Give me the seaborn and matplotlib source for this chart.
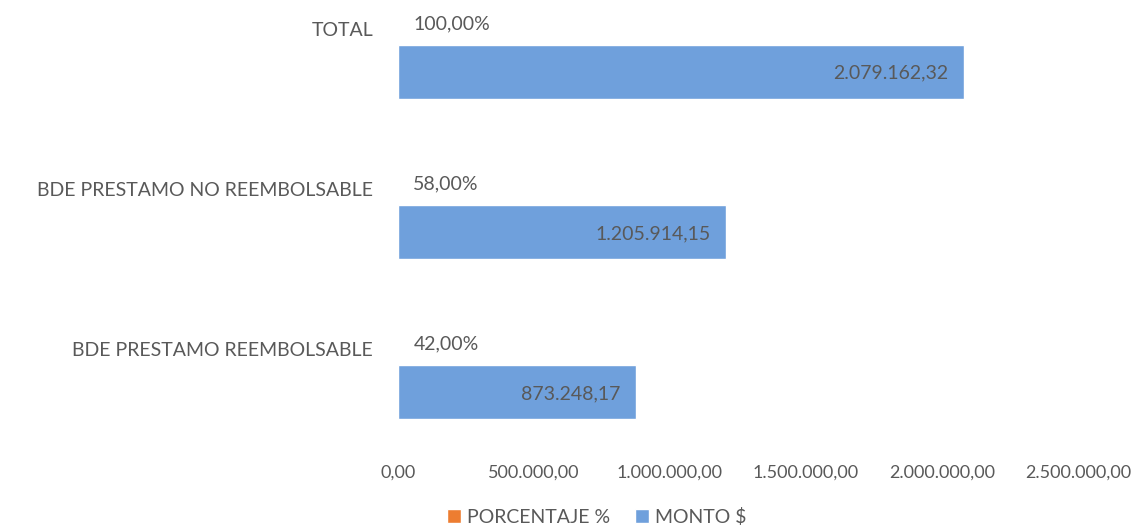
import pandas as pd
import numpy as np
import matplotlib.pyplot as plt
import seaborn as sns

# Values
categorias = ["TOTAL", "BDE PRESTAMO NO REEMBOLSABLE", "BDE PRESTAMO REEMBOLSABLE"]
porcentaje = [1.00, 0.58, 0.42]
monto = [2079162.32, 1205914.15, 873248.17]
x_ticks = [0, 500000, 1000000, 1500000, 2000000, 2500000]
series = ["PORCENTAJE %", "MONTO $"]
colores = ["#ED7D31", "#6FA0DC"]


def fmt_es(v, dec=2):
    # 1234567.8 -> 1.234.567,80
    s = f"{v:,.{dec}f}"
    return s.replace(",", "X").replace(".", ",").replace("X", ".")


df = pd.DataFrame({
    "Categoria": categorias * 2,
    "Valor": porcentaje + monto,
    "Serie": [series[0]] * 3 + [series[1]] * 3,
})

sns.set_style("white")
plt.rcParams["font.family"] = ["Lato", "DejaVu Sans"]
gris = "#595959"
fs = 14

fig = plt.figure(figsize=(11.34, 5.28), dpi=100)
ax = fig.add_axes([0.351, 0.144, 0.5996, 0.856])

sns.barplot(data=df, y="Categoria", x="Valor", hue="Serie", orient="h",
            palette=colores, width=0.67, ax=ax, saturation=1)

ax.set_xlim(0, 2500000)
ax.set_ylim(2.54, -0.28)
ax.set_xticks(x_ticks)
ax.set_xticklabels([fmt_es(t) for t in x_ticks], fontsize=13, color=gris)
ax.set_yticks(np.arange(len(categorias)) - 0.1)
ax.set_yticklabels(categorias, fontsize=fs, color=gris)
ax.tick_params(axis="both", length=0)
ax.tick_params(axis="y", pad=18)
ax.tick_params(axis="x", pad=9)
ax.set_xlabel("")
ax.set_ylabel("")
sns.despine(ax=ax, left=True, bottom=True)

# data labels
cont_pct, cont_monto = ax.containers[0], ax.containers[1]
pct_txt = ax.bar_label(cont_pct, labels=[fmt_es(p * 100) + "%" for p in porcentaje],
                       padding=11, fontsize=fs, color=gris)
for t in pct_txt:
    t.xyann = (11, -4)
monto_txt = ax.bar_label(cont_monto, labels=[fmt_es(m) for m in monto],
                         padding=-11, fontsize=fs, color=gris)
for t in monto_txt:
    t.set_horizontalalignment("right")
    t.xyann = (-11, -1)

sns.move_legend(ax, "center", bbox_to_anchor=(0.526, 0.021),
                bbox_transform=fig.transFigure, ncol=2, frameon=False,
                title=None, fontsize=fs, handlelength=0.72, handleheight=0.72,
                handletextpad=0.3, columnspacing=1.3, labelcolor=gris)

fig.savefig("out.png", dpi=100)
